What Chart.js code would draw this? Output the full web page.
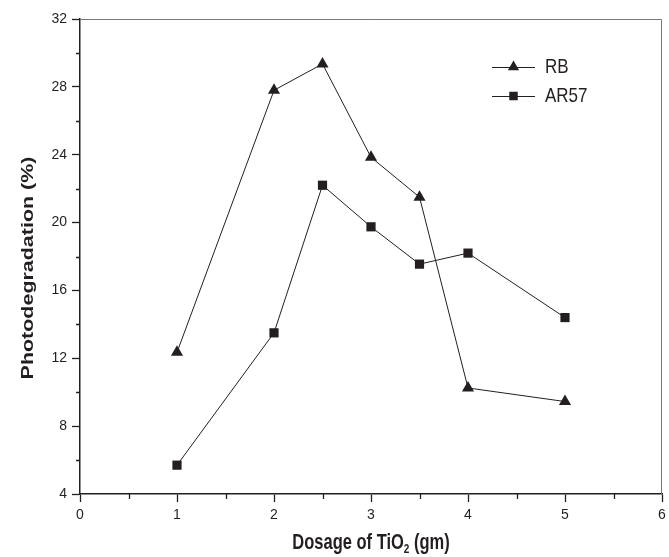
<!DOCTYPE html>
<html>
<head>
<meta charset="utf-8">
<script src="https://cdn.jsdelivr.net/npm/chart.js@4/dist/chart.umd.min.js"></script>
<style>
  html, body { margin: 0; padding: 0; background: #fff; }
  #wrap { width: 669px; height: 557px; }
</style>
</head>
<body>
<div id="wrap"><canvas id="chart"></canvas></div>
<script>
// TiO2 dosage (gm)
const dosage = [1, 2, 2.5, 3, 3.5, 4, 5];
// photodegradation (%)
const rbValues = [12.35, 27.8, 29.35, 23.85, 21.5, 10.25, 9.45];
const ar57Values = [5.7, 13.5, 22.2, 19.75, 17.55, 18.2, 14.4];
const xTicks = [0, 1, 2, 3, 4, 5, 6];
const yTicks = [4, 8, 12, 16, 20, 24, 28, 32];

const ink = '#231f20';
const font = '"Liberation Sans", Arial, Helvetica, sans-serif';
const stretch = 1.3; // titles are drawn tall and narrow

function pts(ys) {
  return dosage.map((x, i) => ({ x: x, y: ys[i] }));
}

// frame, minor ticks, legend and the two axis titles
const decor = {
  id: 'decor',
  afterDraw(chart) {
    const ctx = chart.ctx;
    const a = chart.chartArea;
    const xs = chart.scales.x, ys = chart.scales.y;
    ctx.save();
    // top and right edges of the box
    ctx.strokeStyle = '#777';
    ctx.lineWidth = 1;
    ctx.beginPath();
    ctx.moveTo(a.left, a.top + 0.5);
    ctx.lineTo(a.right - 0.5, a.top + 0.5);
    ctx.lineTo(a.right - 0.5, a.bottom);
    ctx.stroke();

    // minor ticks
    ctx.strokeStyle = ink;
    ctx.lineWidth = 1.3;
    ctx.beginPath();
    for (let v = 0.5; v < 6; v += 1) {
      const px = Math.round(xs.getPixelForValue(v)) + 0.5;
      ctx.moveTo(px, a.bottom);
      ctx.lineTo(px, a.bottom + 5);
    }
    for (let v = 6; v < 32; v += 4) {
      const py = Math.round(ys.getPixelForValue(v)) + 0.5;
      ctx.moveTo(a.left, py);
      ctx.lineTo(a.left - 4, py);
    }
    ctx.stroke();

    // legend
    const entries = [
      { label: 'RB', style: 'triangle', r: 6.5 },
      { label: 'AR57', style: 'rect', r: 6 }
    ];
    entries.forEach((e, i) => {
      const y = 67 + i * 29;
      ctx.strokeStyle = ink;
      ctx.lineWidth = 1;
      ctx.beginPath();
      ctx.moveTo(492, y + 0.5);
      ctx.lineTo(535, y + 0.5);
      ctx.stroke();
      ctx.fillStyle = ink;
      Chart.helpers.drawPoint(ctx, { pointStyle: e.style, radius: e.r, borderWidth: 0 }, 513.5, y);
      ctx.save();
      ctx.translate(545, y + 1);
      ctx.scale(1, 1.15);
      ctx.fillStyle = ink;
      ctx.font = '17px ' + font;
      ctx.textAlign = 'left';
      ctx.textBaseline = 'middle';
      ctx.fillText(e.label, 0, 0);
      ctx.restore();
    });

    ctx.fillStyle = ink;
    const big = 'bold 16.5px ' + font;
    const small = 'bold 10px ' + font;

    // x axis title, TiO2 with a subscript
    const p1 = 'Dosage of TiO', p2 = '2', p3 = ' (gm)';
    ctx.font = big;
    const w1 = ctx.measureText(p1).width, w3 = ctx.measureText(p3).width;
    ctx.font = small;
    const w2 = ctx.measureText(p2).width;
    ctx.save();
    ctx.translate((a.left + a.right) / 2 - (w1 + w2 + w3) / 2, 549);
    ctx.scale(1, stretch);
    ctx.textAlign = 'left';
    ctx.textBaseline = 'alphabetic';
    ctx.font = big;
    ctx.fillText(p1, 0, 0);
    ctx.font = small;
    ctx.fillText(p2, w1, 3);
    ctx.font = big;
    ctx.fillText(p3, w1 + w2, 0);
    ctx.restore();

    // y axis title
    ctx.save();
    ctx.translate(28, 268);
    ctx.rotate(-Math.PI / 2);
    ctx.scale(stretch, 1);
    ctx.font = big;
    ctx.textAlign = 'center';
    ctx.textBaseline = 'middle';
    ctx.fillText('Photodegradation (%)', 0, 0);
    ctx.restore();
    ctx.restore();
  }
};

new Chart(document.getElementById('chart'), {
  type: 'scatter',
  data: {
    datasets: [
      {
        label: 'RB',
        data: pts(rbValues),
        showLine: true,
        borderColor: ink,
        borderWidth: 1,
        backgroundColor: ink,
        pointStyle: 'triangle',
        pointRadius: 7,
        pointBorderWidth: 0
      },
      {
        label: 'AR57',
        data: pts(ar57Values),
        showLine: true,
        borderColor: ink,
        borderWidth: 1,
        backgroundColor: ink,
        pointStyle: 'rect',
        pointRadius: 6.5,
        pointBorderWidth: 0
      }
    ]
  },
  options: {
    responsive: true,
    maintainAspectRatio: false,
    animation: false,
    layout: { padding: { top: 19, right: 1, left: 0, bottom: 0 } },
    plugins: {
      legend: { display: false },
      tooltip: { enabled: false }
    },
    scales: {
      x: {
        type: 'linear',
        min: 0,
        max: 6,
        afterBuildTicks: s => { s.ticks = xTicks.map(v => ({ value: v })); },
        afterFit: s => { s.height = 63; s.paddingLeft = 0; s.paddingRight = 0; },
        border: { color: ink, width: 1.5 },
        grid: { drawOnChartArea: false, tickLength: 8, tickColor: ink, tickWidth: 1.3 },
        ticks: { color: ink, font: { family: font, size: 14 }, padding: 5, maxRotation: 0, autoSkip: false }
      },
      y: {
        min: 4,
        max: 32,
        afterBuildTicks: s => { s.ticks = yTicks.map(v => ({ value: v })); },
        afterFit: s => { s.width = 80; s.paddingTop = 0; s.paddingBottom = 0; },
        border: { color: ink, width: 1.5 },
        grid: { drawOnChartArea: false, tickLength: 8, tickColor: ink, tickWidth: 1.3 },
        ticks: { color: ink, font: { family: font, size: 14 }, padding: 5 }
      }
    }
  },
  plugins: [decor]
});
</script>
</body>
</html>
